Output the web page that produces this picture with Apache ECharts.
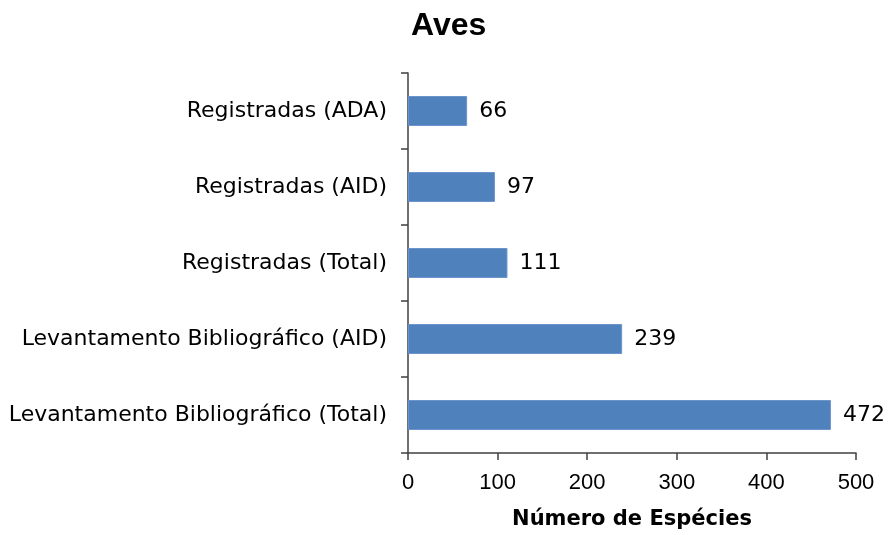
<!DOCTYPE html>
<html>
<head>
<meta charset="utf-8">
<script src="https://cdn.jsdelivr.net/npm/echarts@6/dist/echarts.min.js"></script>
<style>html,body{margin:0;padding:0;background:#fff}#c{width:888px;height:535px}</style>
</head>
<body>
<div id="c"></div>
<script>
const titleText = 'Aves';
const categories = [
  'Levantamento Bibliográfico (Total)',
  'Levantamento Bibliográfico (AID)',
  'Registradas (Total)',
  'Registradas (AID)',
  'Registradas (ADA)'
];
const values = [472, 239, 111, 97, 66];
const xAxisName = 'Número de Espécies';
const xMin = 0, xMax = 500, xInterval = 100;

const chart = echarts.init(document.getElementById('c'), null, {renderer: 'canvas'});
const font = 'Liberation Sans, Arial, sans-serif';
const wide = 'DejaVu Sans, sans-serif';
chart.setOption({
  animation: false,
  title: {
    text: titleText, left: 406, top: 5,
    textStyle: {fontFamily: font, fontSize: 32, fontWeight: 'bold', color: '#000'}
  },
  grid: {left: 408, right: 32, top: 73, bottom: 80, containLabel: false},
  xAxis: {
    type: 'value', min: xMin, max: xMax, interval: xInterval,
    name: xAxisName, nameLocation: 'middle', nameGap: 56,
    nameTextStyle: {fontFamily: wide, fontSize: 21, fontWeight: 'bold', color: '#000'},
    axisLine: {show: true, lineStyle: {color: '#404040', width: 1.5}},
    axisTick: {show: true, length: 7, lineStyle: {color: '#404040', width: 1.5}},
    axisLabel: {fontFamily: font, fontSize: 22, color: '#000', margin: 19},
    splitLine: {show: false}
  },
  yAxis: {
    type: 'category', data: categories,
    axisLine: {show: true, lineStyle: {color: '#404040', width: 1.5}},
    axisTick: {show: true, length: 7, lineStyle: {color: '#404040', width: 1.5}},
    axisLabel: {fontFamily: wide, fontSize: 22, color: '#000', margin: 21}
  },
  series: [{
    type: 'bar', data: values, barWidth: 30,
    itemStyle: {color: '#4F81BD', borderColor: '#6B95CA', borderWidth: 1},
    label: {show: true, position: 'right', distance: 12, fontFamily: wide, fontSize: 22, color: '#000'}
  }]
});
</script>
</body>
</html>
